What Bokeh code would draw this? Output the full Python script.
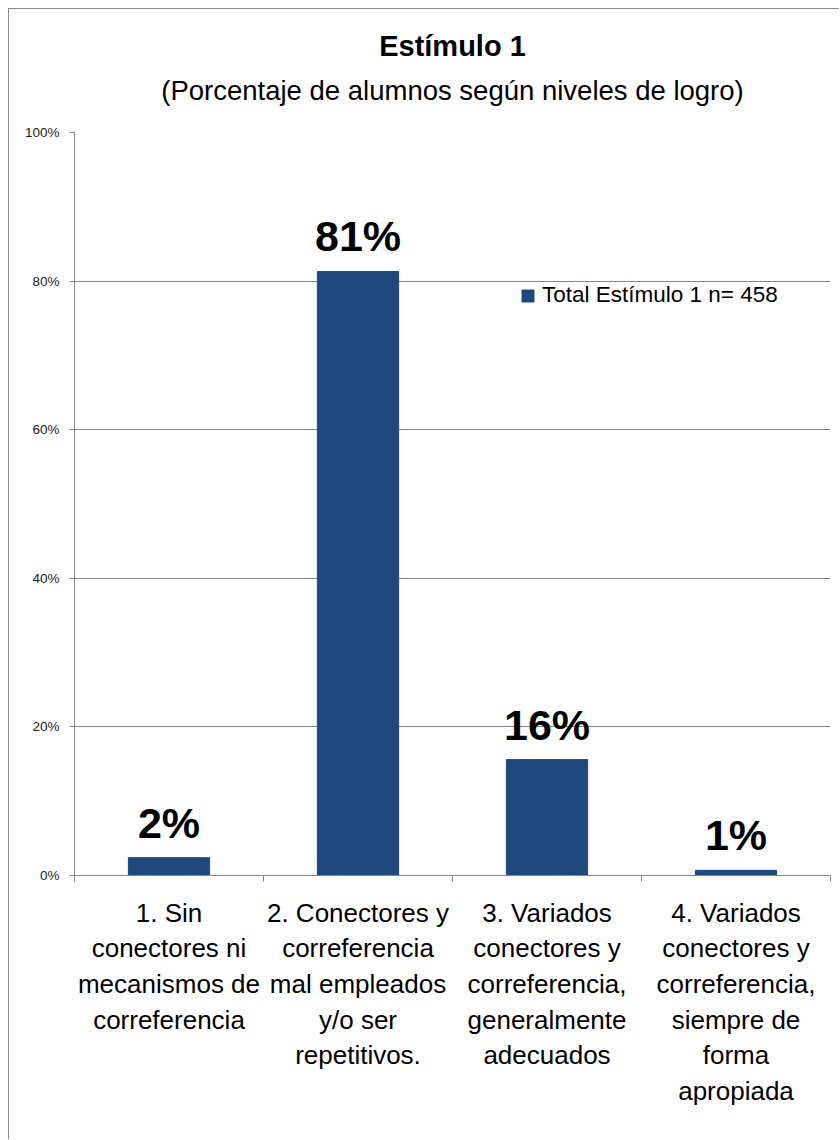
from bokeh.plotting import figure
from bokeh.models import (Range1d, LinearAxis, FixedTicker,
                          NumeralTickFormatter, Title, Legend, LegendItem, ColumnDataSource)
from bokeh.core.properties import value
from bokeh.embed import file_html
from bokeh.resources import INLINE

# ---- data ----
categories = [
    "1. Sin\nconectores ni\nmecanismos de\ncorreferencia",
    "2. Conectores y\ncorreferencia\nmal empleados\ny/o ser\nrepetitivos.",
    "3. Variados\nconectores y\ncorreferencia,\ngeneralmente\nadecuados",
    "4. Variados\nconectores y\ncorreferencia,\nsiempre de\nforma\napropiada",
]
values = [0.024, 0.813, 0.156, 0.007]
value_labels = ["2%", "81%", "16%", "1%"]
series_name = "Total Estímulo 1 n= 458"
y_ticks = [0, 0.2, 0.4, 0.6, 0.8, 1.0]
title_main = "Estímulo 1"
title_sub = "(Porcentaje de alumnos según niveles de logro)"

FONT = "Liberation Sans"
BAR = "#1F497D"
GRID = "#868686"

n = len(categories)
centers = [i + 0.5 for i in range(n)]
bounds = list(range(n + 1))
src = ColumnDataSource(dict(x=centers, val=values, lab=value_labels))

p = figure(width=831, height=1131, x_range=Range1d(0, n),
           y_range=Range1d(0, 1), output_backend="svg", toolbar_location=None,
           x_axis_location=None, y_axis_location=None,
           min_border_left=65, min_border_right=10, min_border_top=123, min_border_bottom=265)
p.styles = {"margin-left": "8px", "margin-top": "8px",
            "border-left": "1px solid #8a8a8a", "border-top": "1px solid #8a8a8a"}
p.outline_line_color = None
p.background_fill_color = "white"
p.border_fill_color = "white"

# titles: each Title added later sits further from the plot area
p.title.text = title_main
p.title.text_font = FONT
p.title.text_font_size = "29px"
p.title.text_font_style = "bold"
p.title.align = "center"
p.title.text_color = "black"
p.title.standoff = 4
# small spacer between subtitle and plot area (added first => nearest the frame)
p.add_layout(Title(text=" ", text_font=FONT, text_font_size="1px", align="center",
                   text_color="white", standoff=15), "above")
p.add_layout(Title(text=title_sub, text_font=FONT, text_font_size="27.5px",
                   text_font_style="normal", align="center", text_color="black", standoff=18), "above")

# y axis
yax = LinearAxis(ticker=FixedTicker(ticks=y_ticks), formatter=NumeralTickFormatter(format="0%"))
yax.axis_line_color = GRID
yax.major_tick_line_color = GRID
yax.major_tick_out = 5
yax.major_tick_in = 0
yax.minor_tick_line_color = None
yax.major_label_text_font = FONT
yax.major_label_text_font_size = "13.5px"
yax.major_label_text_color = "#222222"
yax.major_label_standoff = 10
p.add_layout(yax, "left")

# boundary tick axis
tax = LinearAxis(ticker=FixedTicker(ticks=bounds))
tax.major_label_overrides = {b: "" for b in bounds}
tax.major_label_text_font_size = "1px"
tax.major_label_standoff = 0
tax.axis_line_color = GRID
tax.major_tick_line_color = GRID
tax.major_tick_out = 6
tax.major_tick_in = 0
tax.minor_tick_line_color = None
p.add_layout(tax, "below")

# category label axis
cax = LinearAxis(ticker=FixedTicker(ticks=centers))
cax.major_label_overrides = {c: lab for c, lab in zip(centers, categories)}
cax.axis_line_color = None
cax.major_tick_line_color = None
cax.minor_tick_line_color = None
cax.major_label_text_font = FONT
cax.major_label_text_font_size = "26px"
cax.major_label_text_line_height = 1.19
cax.major_label_text_color = "black"
cax.major_label_standoff = 10
cax.major_label_orientation = "horizontal"
p.add_layout(cax, "below")

# grid
p.ygrid.ticker = FixedTicker(ticks=y_ticks)
p.ygrid.grid_line_color = GRID
p.xgrid.grid_line_color = None

bars = p.vbar(x="x", top="val", width=0.43, source=src, fill_color=BAR, line_color=BAR)

p.text(x="x", y="val", text="lab", source=src, text_align="center", text_baseline="alphabetic",
       y_offset=-35, text_font=value(FONT), text_font_style="bold", text_font_size="43px",
       text_color="black")

legend = Legend(items=[LegendItem(label=series_name, renderers=[bars])],
                location=(446, 567), orientation="vertical")
legend.border_line_color = None
legend.background_fill_alpha = 0
legend.padding = 0
legend.margin = 0
legend.glyph_width = 15
legend.glyph_height = 15
legend.label_standoff = 7
legend.label_text_font = FONT
legend.label_text_font_size = "22.5px"
legend.label_text_color = "black"
p.add_layout(legend, "center")

open("out.html", "w").write(file_html(p, INLINE))
